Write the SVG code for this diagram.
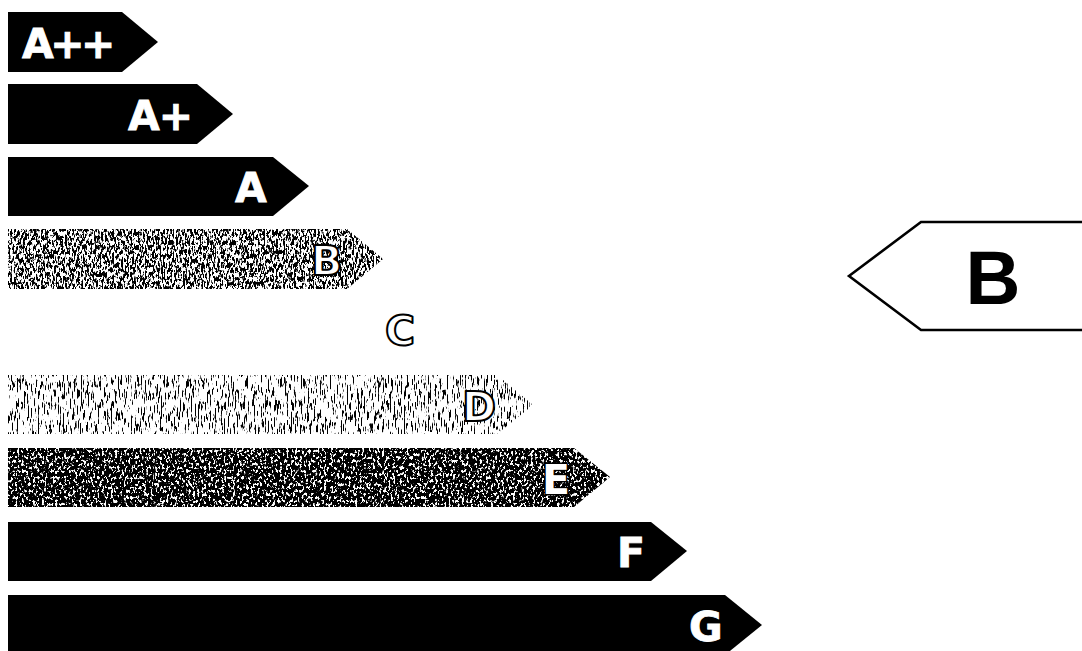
<svg xmlns="http://www.w3.org/2000/svg" width="1082" height="651" viewBox="0 0 1082 651">
<style>
 .bar{fill:#000}
 .lbl{font-family:"DejaVu Sans","Liberation Sans",sans-serif;font-weight:bold;font-size:41px}
 .w{fill:#fff;stroke:#fff;stroke-width:0.8}
 .o{fill:#fff;stroke:#000;stroke-width:2;stroke-linejoin:round}
 .h{fill:#fff;stroke:#000;stroke-width:3;paint-order:stroke;stroke-linejoin:round}
 .big{font-family:"Liberation Sans","DejaVu Sans",sans-serif;font-weight:bold;font-size:76px;fill:#000}
</style>
<defs>
 <filter id="texB" x="0" y="0" width="1" height="1">
  <feTurbulence type="fractalNoise" baseFrequency="0.55 0.22" numOctaves="3" seed="4" result="n"/>
  <feColorMatrix in="n" type="matrix" values="0 0 0 0 0  0 0 0 0 0  0 0 0 0 0  14 0 0 0 -6.6" result="a"/>
  <feComposite in="a" in2="SourceAlpha" operator="in"/>
 </filter>
 <filter id="texD" x="0" y="0" width="1" height="1">
  <feTurbulence type="fractalNoise" baseFrequency="0.7 0.09" numOctaves="3" seed="9" result="n"/>
  <feColorMatrix in="n" type="matrix" values="0 0 0 0 0  0 0 0 0 0  0 0 0 0 0  14 0 0 0 -7.9" result="a"/>
  <feComposite in="a" in2="SourceAlpha" operator="in"/>
 </filter>
 <filter id="texE" x="0" y="0" width="1" height="1">
  <feTurbulence type="fractalNoise" baseFrequency="0.45 0.3" numOctaves="3" seed="2" result="n"/>
  <feColorMatrix in="n" type="matrix" values="0 0 0 0 0  0 0 0 0 0  0 0 0 0 0  14 0 0 0 -5.3" result="a"/>
  <feComposite in="a" in2="SourceAlpha" operator="in"/>
 </filter>
</defs>

<g id="class-app">
 <polygon class="bar" points="8,12 122,12 158,42 122,72 8,72"/>
 <text class="lbl w" x="22" y="58" letter-spacing="-3.5">A++</text>
</g>
<g id="class-ap">
 <polygon class="bar" points="8,84 197,84 233,114 197,144 8,144"/>
 <text class="lbl w" x="128" y="130" letter-spacing="-1">A+</text>
</g>
<g id="class-a">
 <polygon class="bar" points="8,157 273,157 309,186 273,216 8,216"/>
 <text class="lbl w" x="235" y="202">A</text>
</g>
<g id="class-b">
 <polygon class="bar" filter="url(#texB)" points="8,229 347,229 383,259 347,289 8,289"/>
 <text class="lbl o" x="311" y="275">B</text>
</g>
<g id="class-c">
 <text class="lbl o" x="385" y="345">C</text>
</g>
<g id="class-d">
 <polygon class="bar" filter="url(#texD)" points="8,375 497,375 533,405 497,434 8,434"/>
 <text class="lbl o" x="462" y="421">D</text>
</g>
<g id="class-e">
 <polygon class="bar" filter="url(#texE)" points="8,448 574,448 610,477 574,507 8,507"/>
 <text class="lbl h" x="542" y="494">E</text>
</g>
<g id="class-f">
 <polygon class="bar" points="8,522 651,522 687,551 651,581 8,581"/>
 <text class="lbl w" x="617" y="567">F</text>
</g>
<g id="class-g">
 <polygon class="bar" points="8,595 725,595 762,625 725,655 8,655"/>
 <text class="lbl w" x="689" y="641">G</text>
</g>

<g id="rating">
 <polygon points="849,276 921,222 1090,222 1090,330 921,330" fill="#fff" stroke="#000" stroke-width="2.6" stroke-linejoin="miter"/>
 <text class="big" x="993" y="304" text-anchor="middle">B</text>
</g>
</svg>
